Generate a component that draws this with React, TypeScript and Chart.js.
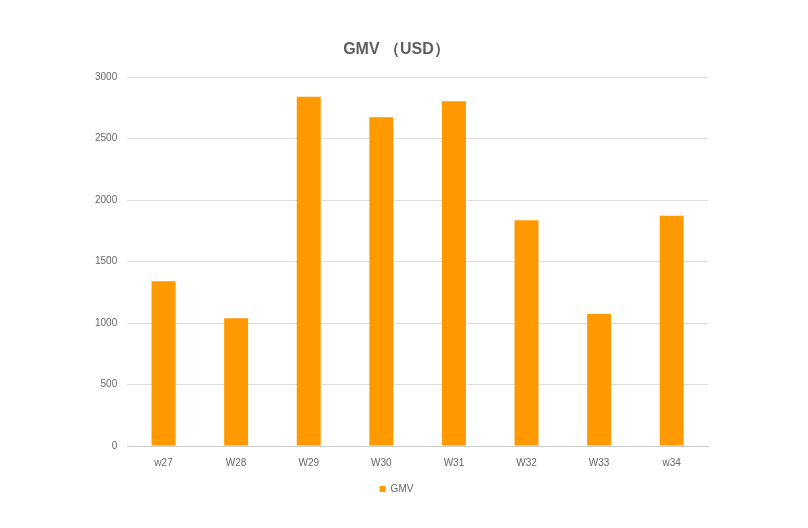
import React, { useEffect, useRef } from "react";
import { Chart, registerables } from "chart.js";

Chart.register(...registerables);

const categories = ["w27", "W28", "W29", "W30", "W31", "W32", "W33", "w34"];
const gmvValues = [1340, 1040, 2840, 2675, 2805, 1837, 1073, 1872];
const yTicks = [0, 500, 1000, 1500, 2000, 2500, 3000];
const seriesName = "GMV";
const titleText = "GMV （USD）";

export default function App() {
  const ref = useRef<HTMLCanvasElement | null>(null);
  useEffect(() => {
    if (!ref.current) return;
    const chart = new Chart(ref.current, {
      type: "bar",
      data: {
        labels: categories,
        datasets: [
          {
            label: seriesName,
            data: gmvValues,
            backgroundColor: "#ff9900",
            borderWidth: 0,
            barPercentage: 0.33,
            categoryPercentage: 1,
          },
        ],
      },
      options: {
        animation: false,
        responsive: false,
        maintainAspectRatio: false,
        layout: { padding: { left: 85, right: 100, top: 0, bottom: 24 } },
        plugins: {
          title: {
            display: true,
            text: titleText,
            color: "#5e5e5e",
            font: { family: "Liberation Sans, Arial, sans-serif", size: 16, weight: "bold" },
            padding: { top: 40, bottom: 18 },
          },
          legend: {
            position: "bottom",
            labels: {
              color: "#666",
              boxWidth: 6,
              boxHeight: 6,
              font: { family: "Liberation Sans, Arial, sans-serif", size: 10 },
              padding: 12,
            },
          },
          tooltip: { enabled: false },
        },
        scales: {
          x: {
            grid: { display: false },
            border: { color: "#cccccc" },
            ticks: {
              color: "#666",
              font: { family: "Liberation Sans, Arial, sans-serif", size: 10 },
              padding: 3,
            },
          },
          y: {
            min: 0,
            max: 3000,
            afterBuildTicks: (axis: any) => {
              axis.ticks = yTicks.map((v) => ({ value: v }));
            },
            grid: { color: "#dddddd", drawTicks: false },
            border: { display: false },
            ticks: {
              color: "#666",
              font: { family: "Liberation Sans, Arial, sans-serif", size: 10 },
              padding: 10,
              callback: (v: any) => String(v),
            },
          },
        },
      },
    });
    return () => chart.destroy();
  }, []);
  return (
    <div style={{ position: "absolute", left: 0, top: 0, width: 808, height: 528, background: "#fff" }}>
      <canvas ref={ref} width={808} height={528} style={{ width: 808, height: 528 }} />
    </div>
  );
}
